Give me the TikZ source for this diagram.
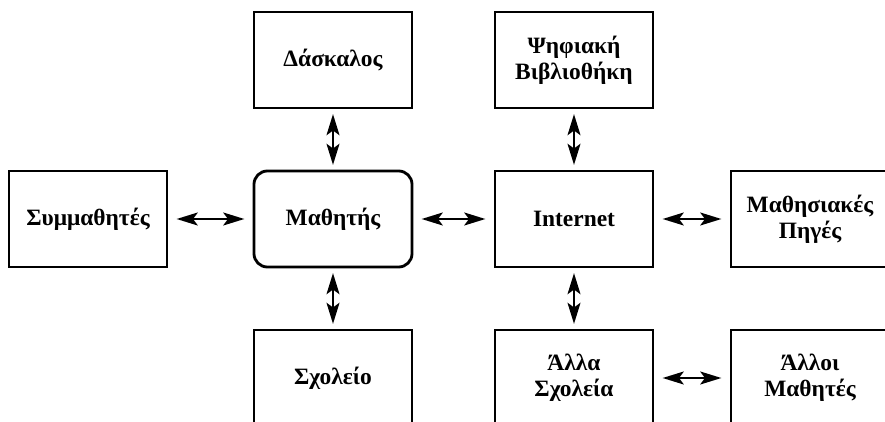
\documentclass[tikz,border=0pt]{standalone}
\usepackage{fontspec}
\setmainfont{Liberation Serif}
\usetikzlibrary{arrows.meta,positioning}

\begin{document}
\begin{tikzpicture}[x=0.03cm, y=-0.03cm, line width=2.4pt,
  box/.style={rectangle,draw,minimum width=4.74cm,minimum height=2.88cm,inner sep=0pt,align=center,font=\fontsize{20}{22}\selectfont\bfseries},
  rbox/.style={box,rounded corners=0.4cm},
  link/.style={{Stealth[length=18pt,width=11pt,inset=4pt]}-{Stealth[length=18pt,width=11pt,inset=4pt]},line width=2.2pt,shorten >=7pt,shorten <=7pt},
  vlink/.style={shorten >=4pt,shorten <=4pt}]
\useasboundingbox (0,0) rectangle (885,422);
\begin{scope}
\node[box] (dask) at (333,60) {Δάσκαλος};
\node[box] (bibl) at (574,60) {Ψηφιακή\\Βιβλιοθήκη};
\node[box] (symm) at (88,219) {Συμμαθητές};
\node[rbox] (math) at (333,219) {Μαθητής};
\node[box] (inet) at (574,219) {Internet};
\node[box] (pigi) at (810,219) {Μαθησιακές\\Πηγές};
\node[box] (sxol) at (333,378) {Σχολείο};
\node[box] (allsx) at (574,378) {Άλλα\\Σχολεία};
\node[box] (allma) at (810,378) {Άλλοι\\Μαθητές};
\end{scope}
\begin{scope}[every edge/.style={draw=black,link}]
\draw (symm) edge (math);
\draw (math) edge (inet);
\draw (inet) edge (pigi);
\draw (dask) edge[vlink] (math);
\draw (math) edge[vlink] (sxol);
\draw (bibl) edge[vlink] (inet);
\draw (inet) edge[vlink] (allsx);
\draw (allsx) edge (allma);
\end{scope}
\end{tikzpicture}
\end{document}
